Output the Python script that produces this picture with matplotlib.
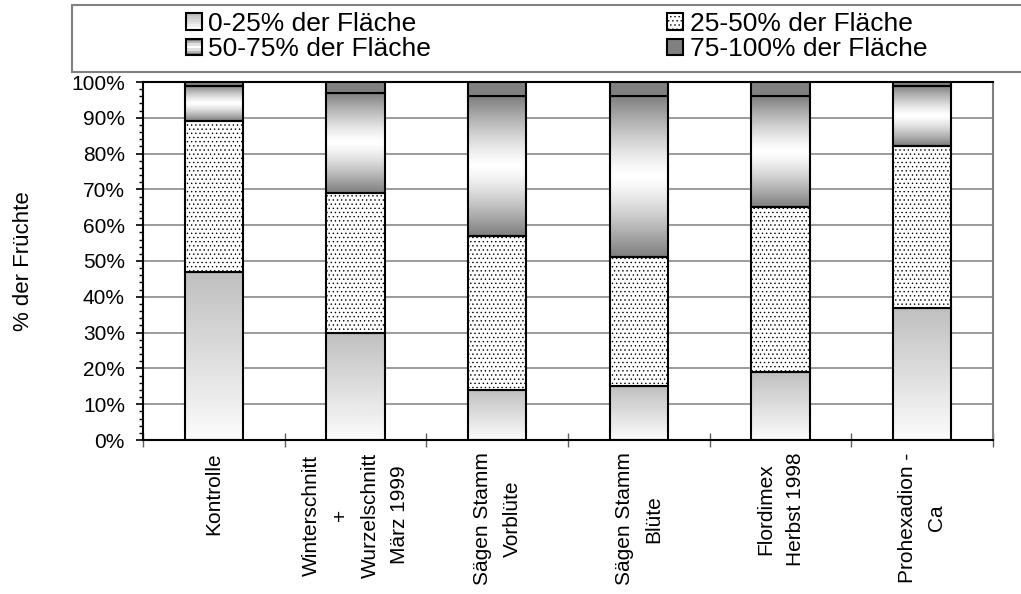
import numpy as np
import matplotlib
matplotlib.use("Agg")
import matplotlib.pyplot as plt
from matplotlib.patches import Rectangle
from matplotlib.legend_handler import HandlerBase
from matplotlib.ticker import MultipleLocator, PercentFormatter

plt.rcParams['font.family'] = ['Liberation Sans', 'DejaVu Sans']
plt.rcParams['hatch.linewidth'] = 0.5
plt.rcParams['hatch.color'] = '#a0a0a0'

# Treatments and share of fruits (%) per russeting class
categories = [
    "Kontrolle",
    "Winterschnitt\n+\nWurzelschnitt\nMärz 1999",
    "Sägen Stamm\nVorblüte",
    "Sägen Stamm\nBlüte",
    "Flordimex\nHerbst 1998",
    "Prohexadion -\nCa",
]
series_labels = ["0-25% der Fläche", "25-50% der Fläche",
                 "50-75% der Fläche", "75-100% der Fläche"]
share_0_25 = [47, 30, 14, 15, 19, 37]
share_25_50 = [42, 39, 43, 36, 46, 45]
share_50_75 = [10, 28, 39, 45, 31, 17]
share_75_100 = [1, 3, 4, 4, 4, 1]

W, H = 1021, 594
fig = plt.figure(figsize=(W / 100, H / 100), dpi=100)
ax = fig.add_axes([143 / W, (H - 440) / H, (993 - 143) / W, (440 - 82) / H])

x = np.arange(len(categories))
bar_w = 0.41
EDGE = dict(edgecolor='black', linewidth=1.5)
DOTS = '....'


def fade_profile(n=64):
    # light grey at the top fading to white at the bottom
    t = np.linspace(0, 1, n)
    return 0.75 + 0.235 * t


def band_profile(n=64):
    # dark grey at both edges, white in the middle
    t = np.linspace(0, 1, n)
    return 1.0 - 0.5 * np.abs(2 * t - 1) ** 1.3


def gradient_fill(patch, values):
    x0, y0 = patch.get_x(), patch.get_y()
    w, h = patch.get_width(), patch.get_height()
    img = values[:, None] * np.ones((1, 2))
    im = ax.imshow(img, extent=(x0, x0 + w, y0, y0 + h), origin='upper',
                   cmap='gray', vmin=0, vmax=1, aspect='auto',
                   interpolation='bilinear', zorder=2)
    im.set_clip_path(patch)


frac = lambda v: np.asarray(v) / 100.0
b1 = frac(share_0_25)
b2 = b1 + frac(share_25_50)
b3 = b2 + frac(share_50_75)

bars_a = ax.bar(x, frac(share_0_25), bar_w, facecolor='none', zorder=3, **EDGE)
bars_b = ax.bar(x, frac(share_25_50), bar_w, bottom=b1, facecolor='white',
                hatch=DOTS, zorder=3, **EDGE)
bars_c = ax.bar(x, frac(share_50_75), bar_w, bottom=b2, facecolor='none',
                zorder=3, **EDGE)
bars_d = ax.bar(x, frac(share_75_100), bar_w, bottom=b3, facecolor='#808080',
                zorder=3, **EDGE)

for p in bars_a:
    gradient_fill(p, fade_profile())
for p in bars_c:
    gradient_fill(p, band_profile())

ax.set_xlim(-0.5, len(categories) - 0.5)
ax.set_ylim(0, 1)

# y axis
ax.yaxis.set_major_locator(MultipleLocator(0.1))
ax.yaxis.set_minor_locator(MultipleLocator(0.02))
ax.yaxis.set_major_formatter(PercentFormatter(1.0, decimals=0))
ax.tick_params(axis='y', which='major', direction='out', length=5, width=1.2,
               labelsize=15, pad=8)
ax.tick_params(axis='y', which='minor', direction='out', length=3, width=1.0)
ax.grid(axis='y', color='#808080', linewidth=1.1, zorder=0)
ax.set_axisbelow(True)

# x axis: ticks between groups, labels under the bars
ax.set_xticks(np.arange(len(categories) + 1) - 0.5)
ax.set_xticklabels([])
ax.set_xticks(x, minor=True)
ax.set_xticklabels(categories, minor=True, rotation=90, fontsize=15,
                   ha='center', va='top', multialignment='center')
for t in ax.get_xticklabels(minor=True):
    t.set_linespacing(1.7)
ax.tick_params(axis='x', which='major', direction='inout', length=10, width=1.0,
               color='#606060')
ax.tick_params(axis='x', which='minor', length=0, pad=9)

for side in ('left', 'bottom', 'top'):
    ax.spines[side].set_color('black')
    ax.spines[side].set_linewidth(1.5)
ax.spines['right'].set_color('#808080')
ax.spines['right'].set_linewidth(1.5)

ax.set_ylabel("% der Früchte", fontsize=16)
ax.yaxis.set_label_coords(-0.128, 0.5)

# legend frame across the top of the figure
fig.patches.append(Rectangle((72 / W, (H - 72) / H), 1.02 - 72 / W, 67 / H,
                             transform=fig.transFigure, facecolor='white',
                             edgecolor='#808080', linewidth=1.5, zorder=0))


class StripeHandler(HandlerBase):
    def __init__(self, tones):
        super().__init__()
        self.tones = tones

    def create_artists(self, legend, orig_handle, xdescent, ydescent,
                       width, height, fontsize, trans):
        n = len(self.tones)
        arts = []
        for i, v in enumerate(self.tones):
            arts.append(Rectangle((-xdescent, -ydescent + height * (n - 1 - i) / n),
                                  width, height / n, facecolor=str(v),
                                  edgecolor='none', transform=trans))
        arts.append(Rectangle((-xdescent, -ydescent), width, height,
                              facecolor='none', edgecolor='black',
                              linewidth=1.5, transform=trans))
        return arts


h_a = Rectangle((0, 0), 1, 1)
h_b = Rectangle((0, 0), 1, 1, facecolor='white', hatch=DOTS, **EDGE)
h_c = Rectangle((0, 0), 1, 1)
h_d = Rectangle((0, 0), 1, 1, facecolor='#808080', **EDGE)

handles = [h_a, h_c, h_b, h_d]
labels = [series_labels[0], series_labels[2], series_labels[1], series_labels[3]]
leg = fig.legend(handles, labels, ncol=2, loc='upper left',
                 bbox_to_anchor=(186 / W, (H - 12) / H), frameon=False,
                 fontsize=19, handlelength=0.6, handleheight=0.6,
                 handletextpad=0.25, columnspacing=8.95, labelspacing=0.05,
                 borderpad=0, borderaxespad=0,
                 handler_map={h_a: StripeHandler(fade_profile(6)),
                              h_c: StripeHandler(band_profile(7))})

fig.savefig("out.png", dpi=100)
